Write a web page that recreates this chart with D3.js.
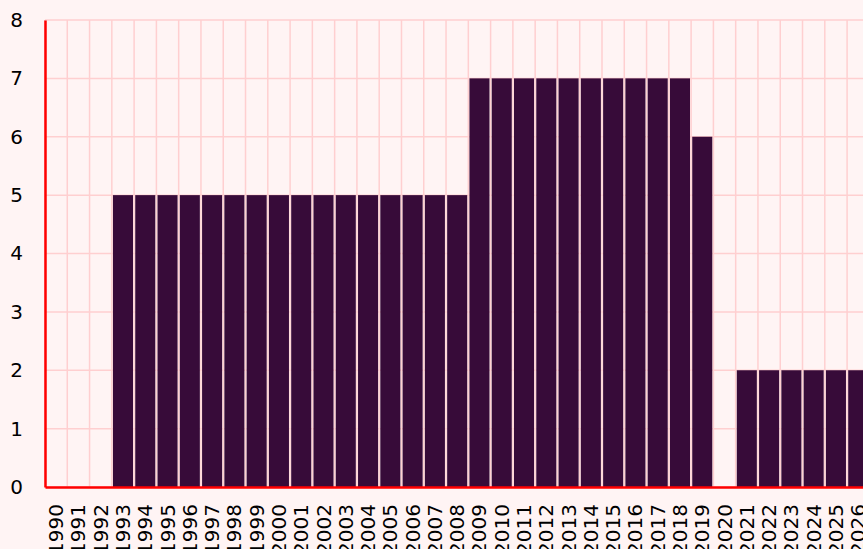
<!DOCTYPE html>
<html>
<head>
<meta charset="utf-8">
<script src="https://cdn.jsdelivr.net/npm/d3@7"></script>
<style>
  body { margin: 0; background: #fff4f4; overflow: hidden; }
  svg { display: block; }
</style>
</head>
<body>
<svg id="chart" width="863" height="549"></svg>
<script>
var years = ["1990","1991","1992","1993","1994","1995","1996","1997","1998","1999",
  "2000","2001","2002","2003","2004","2005","2006","2007","2008","2009",
  "2010","2011","2012","2013","2014","2015","2016","2017","2018","2019",
  "2020","2021","2022","2023","2024","2025","2026"];
var counts = [0,0,0,5,5,5,5,5,5,5,
  5,5,5,5,5,5,5,5,5,7,
  7,7,7,7,7,7,7,7,7,6,
  0,2,2,2,2,2,2];
var yTicks = [0,1,2,3,4,5,6,7,8];

var svg = d3.select("#chart");
var plotLeft = 45, plotTop = 20, plotBottom = 487;

var x = d3.scaleBand().domain(years).range([plotLeft, plotLeft + years.length * 22.28]).paddingInner(0.1).paddingOuter(0.05);
var y = d3.scaleLinear().domain([0, 8]).range([plotBottom, plotTop]);

// grid
var grid = svg.append("g");
grid.selectAll("line.h").data(yTicks).enter().append("line")
  .attr("x1", plotLeft).attr("x2", 863)
  .attr("y1", function(d){ return y(d); }).attr("y2", function(d){ return y(d); })
  .attr("stroke", "#ffcfd0").attr("stroke-width", 1.5);

var step = x.step();
grid.selectAll("line.v").data(years).enter().append("line")
  .attr("x1", function(d, i){ return plotLeft + i * step; })
  .attr("x2", function(d, i){ return plotLeft + i * step; })
  .attr("y1", plotTop).attr("y2", plotBottom)
  .attr("stroke", "#ffcfd0").attr("stroke-width", 1.5);

// bars
svg.append("g").selectAll("rect").data(counts).enter().append("rect")
  .attr("x", function(d, i){ return x(years[i]); })
  .attr("y", function(d){ return y(d); })
  .attr("width", x.bandwidth())
  .attr("height", function(d){ return plotBottom - y(d); })
  .attr("fill", "#370b39");

// axes
var yAxis = svg.append("g").attr("transform", "translate(" + plotLeft + ",0)")
  .call(d3.axisLeft(y).tickValues(yTicks).tickSize(0).tickPadding(22));
yAxis.attr("font-family", "DejaVu Sans").attr("font-size", 20);
yAxis.select(".domain").attr("stroke", "#ff0000").attr("stroke-width", 2.5);
yAxis.selectAll("text").attr("fill", "#000");

var xAxis = svg.append("g").attr("transform", "translate(0," + plotBottom + ")")
  .call(d3.axisBottom(x).tickSize(0).tickPadding(0));
xAxis.attr("font-family", "DejaVu Sans").attr("font-size", 20);
xAxis.select(".domain").attr("stroke", "#ff0000").attr("stroke-width", 2.5);
xAxis.selectAll("text")
  .attr("fill", "#000")
  .attr("text-anchor", "end")
  .attr("transform", "translate(0,17) rotate(-90)")
  .attr("x", 0).attr("y", 0).attr("dy", "0.35em");
</script>
</body>
</html>
